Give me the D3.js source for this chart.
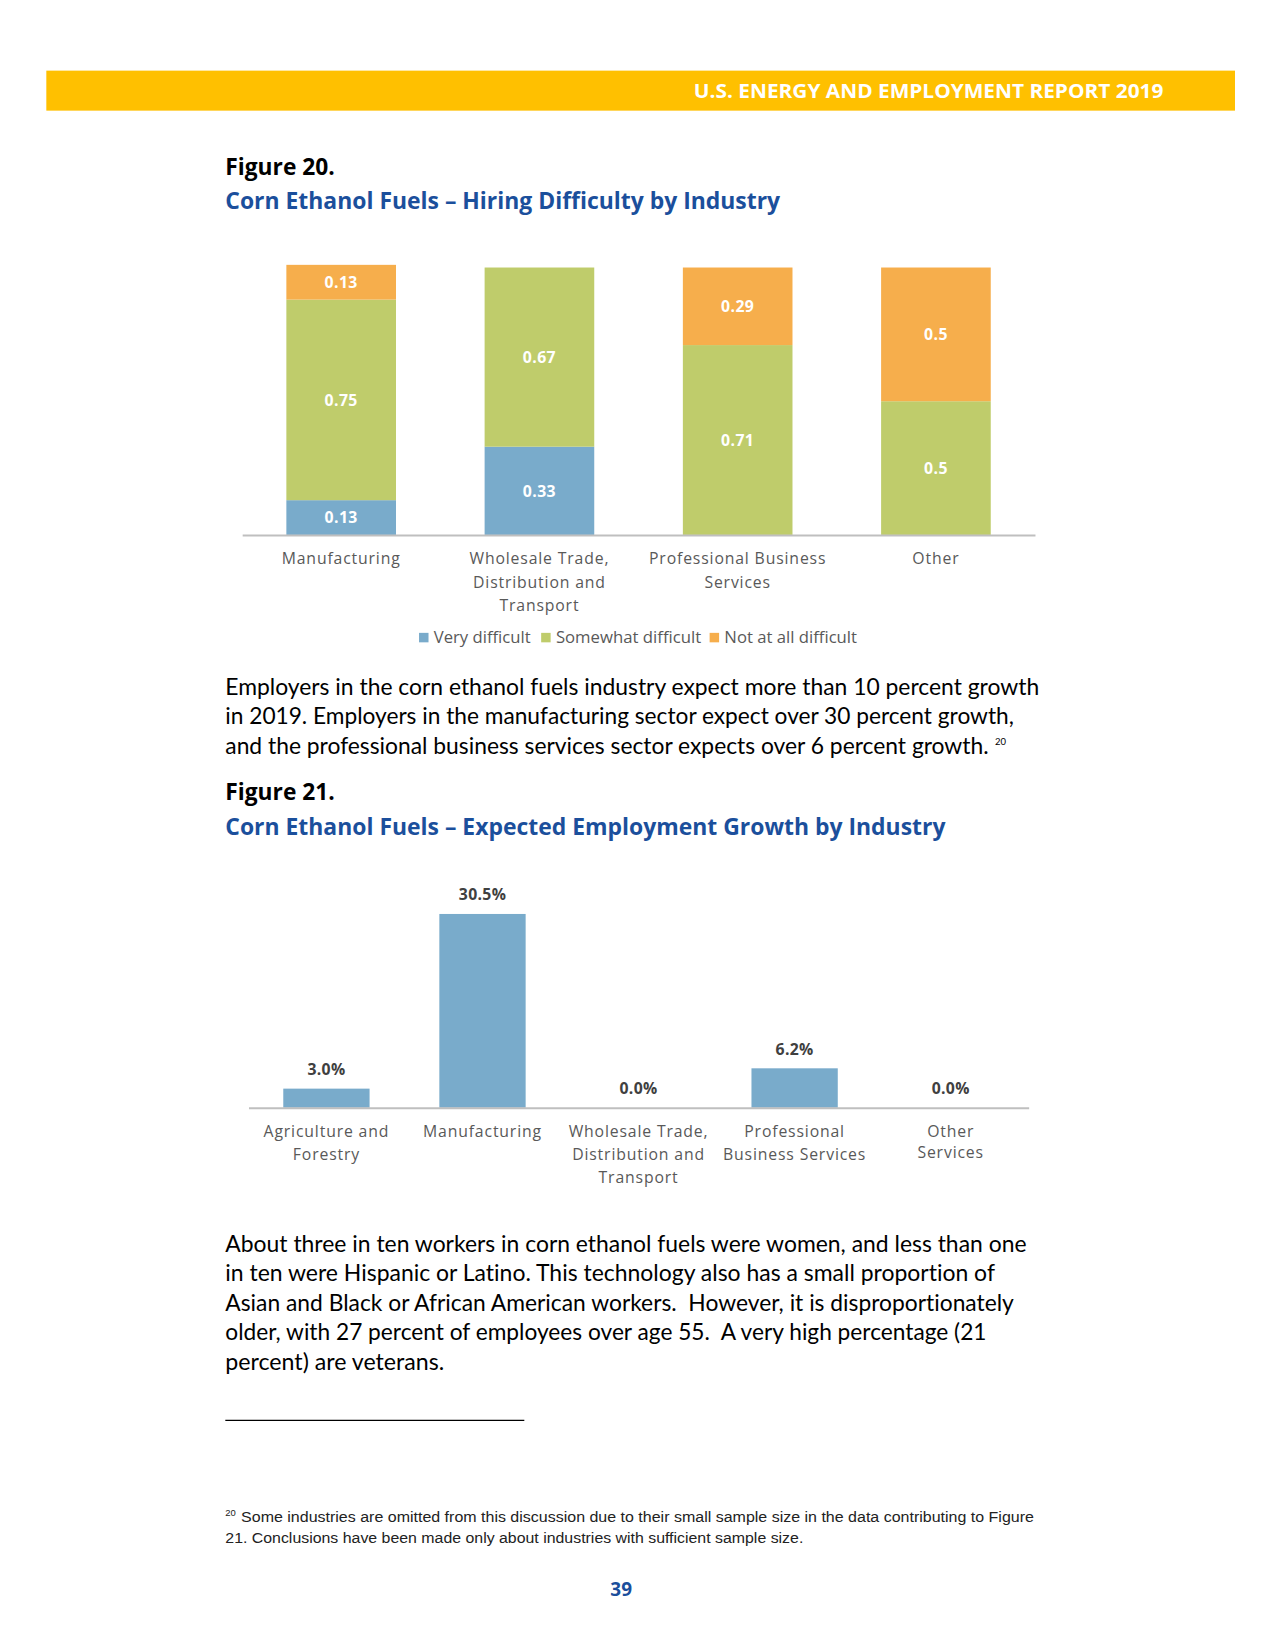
<!DOCTYPE html>
<html>
<head>
<meta charset="utf-8">
<script src="https://cdn.jsdelivr.net/npm/d3@7"></script>
<style>
  html, body { margin: 0; padding: 0; background: #fff; }
  svg { display: block; }
  text { font-variant-ligatures: none; white-space: pre; }
</style>
</head>
<body>
<div id="page"></div>
<script>
// ---- data: figure 20 (hiring difficulty) ----
const industries20 = ["Manufacturing", "Wholesale Trade, Distribution and Transport", "Professional Business Services", "Other"];
const industryLines20 = [["Manufacturing"], ["Wholesale Trade,", "Distribution and", "Transport"], ["Professional Business", "Services"], ["Other"]];
const veryDifficult = [0.13, 0.33, 0, 0];
const somewhatDifficult = [0.75, 0.67, 0.71, 0.5];
const notAtAllDifficult = [0.13, 0, 0.29, 0.5];
const seriesNames = ["Very difficult", "Somewhat difficult", "Not at all difficult"];

// ---- data: figure 21 (expected growth) ----
const industries21 = ["Agriculture and Forestry", "Manufacturing", "Wholesale Trade, Distribution and Transport", "Professional Business Services", "Other Services"];
const industryLines21 = [["Agriculture and", "Forestry"], ["Manufacturing"], ["Wholesale Trade,", "Distribution and", "Transport"], ["Professional", "Business Services"], ["Other", "Services"]];
const growth = [3.0, 30.5, 0.0, 6.2, 0.0];

// ---- page text ----
const para1 = [
  "Employers in the corn ethanol fuels industry expect more than 10 percent growth",
  "in 2019. Employers in the manufacturing sector expect over 30 percent growth,",
  "and the professional business services sector expects over 6 percent growth."
];
const para2 = [
  "About three in ten workers in corn ethanol fuels were women, and less than one",
  "in ten were Hispanic or Latino. This technology also has a small proportion of",
  "Asian and Black or African American workers.  However, it is disproportionately",
  "older, with 27 percent of employees over age 55.  A very high percentage (21",
  "percent) are veterans."
];
const footnote = [
  "Some industries are omitted from this discussion due to their small sample size in the data contributing to Figure",
  "21. Conclusions have been made only about industries with sufficient sample size."
];

const colors = ["#79abcb", "#bfcc6b", "#f6ae4c"];
const blue = "#1b4f9c";
const chartFont = "'Open Sans', 'DejaVu Sans', sans-serif";
const bodyFont = "Lato, 'Open Sans', sans-serif";

// page drawn in a 1211 x 1567 coordinate box, scaled up to the window
const W = 1211, H = 1567;
const svg = d3.select("#page").append("svg")
    .attr("width", 1275)
    .attr("height", 1650)
    .attr("viewBox", `0 0 ${W} ${H}`);

function line(x, y, txt, opts) {
    let t = svg.append("text")
        .attr("x", x).attr("y", y)
        .style("font-family", opts.font || bodyFont)
        .style("font-size", opts.size + "px")
        .style("font-weight", opts.weight || 400)
        .style("fill", opts.fill || "#000")
        .text(txt);
    if (opts.anchor) t.attr("text-anchor", opts.anchor);
    if (opts.len) t.attr("textLength", opts.len).attr("lengthAdjust", "spacingAndGlyphs");
    return t;
}

// header band
svg.append("rect").attr("x", 44).attr("y", 67).attr("width", 1129).attr("height", 38).attr("fill", "#ffc000");
line(659, 93, "U.S. ENERGY AND EMPLOYMENT REPORT 2019", {font: chartFont, size: 19, weight: 700, fill: "#fff", len: 446});

// figure 20 titles
line(214, 166, "Figure 20.", {font: chartFont, size: 22, weight: 700, len: 104});
line(214, 198, "Corn Ethanol Fuels \u2013 Hiring Difficulty by Industry", {font: chartFont, size: 22, weight: 700, fill: blue, len: 527});

// ---------- Figure 20 stacked bars ----------
const x20 = d3.scaleBand().domain(industries20).range([230, 983]).paddingInner(0.447).paddingOuter(0.223);
const y20 = d3.scaleLinear().domain([0, 1]).range([508, 254]);

const table20 = industries20.map((k, i) => ({
    industry: k,
    "Very difficult": veryDifficult[i],
    "Somewhat difficult": somewhatDifficult[i],
    "Not at all difficult": notAtAllDifficult[i]
}));
const stacked = d3.stack().keys(seriesNames)(table20);

const g20 = svg.append("g");
stacked.forEach((layer, li) => {
    g20.selectAll(".seg" + li)
        .data(layer)
        .join("rect")
        .attr("x", d => x20(d.data.industry))
        .attr("width", x20.bandwidth())
        .attr("y", d => y20(d[1]))
        .attr("height", d => y20(d[0]) - y20(d[1]))
        .attr("fill", colors[li]);
    g20.selectAll(".lab" + li)
        .data(layer.filter(d => d[1] - d[0] > 0))
        .join("text")
        .attr("x", d => x20(d.data.industry) + x20.bandwidth() / 2)
        .attr("y", d => (y20(d[0]) + y20(d[1])) / 2 + 5.5)
        .attr("text-anchor", "middle")
        .style("font-family", chartFont)
        .style("font-size", "15px")
        .style("font-weight", 700)
        .style("letter-spacing", "0.4px")
        .style("fill", "#fff")
        .text(d => +(d[1] - d[0]).toFixed(2));
});

const ax20 = svg.append("g").attr("transform", "translate(0,508)")
    .call(d3.axisBottom(x20).tickSize(0).tickSizeOuter(0).tickFormat(""));
ax20.select(".domain").attr("stroke", "#bfbfbf").attr("stroke-width", 2);

industries20.forEach((k, i) => {
    const t = svg.append("text")
        .attr("text-anchor", "middle")
        .style("font-family", chartFont)
        .style("font-size", "15px")
        .style("letter-spacing", "0.8px")
        .style("fill", "#595959");
    industryLines20[i].forEach((s, j) => {
        t.append("tspan").attr("x", x20(k) + x20.bandwidth() / 2).attr("y", 536 + j * 22).text(s);
    });
});

// legend
const legX = [398, 514, 674];
const legW = [92, 138, 126];
seriesNames.forEach((s, i) => {
    svg.append("rect").attr("x", legX[i]).attr("y", 601).attr("width", 9).attr("height", 9).attr("fill", colors[i]);
    line(legX[i] + 14, 611, s, {font: chartFont, size: 15, fill: "#595959", len: legW[i]});
});

// paragraph 1
const p1Len = [773, 749, 725];
para1.forEach((s, i) => line(214, 660 + i * 28, s, {size: 21, len: p1Len[i]}));
line(945, 708, "20", {size: 9});

// figure 21 titles
line(214, 760, "Figure 21.", {font: chartFont, size: 22, weight: 700, len: 104});
line(214, 793, "Corn Ethanol Fuels \u2013 Expected Employment Growth by Industry", {font: chartFont, size: 22, weight: 700, fill: blue, len: 684});

// ---------- Figure 21 bars ----------
const x21 = d3.scaleBand().domain(industries21).range([236, 977]).paddingInner(0.447).paddingOuter(0.223);
const y21 = d3.scaleLinear().domain([0, 30.5]).range([1052, 868]);

svg.append("g").selectAll("rect")
    .data(growth)
    .join("rect")
    .attr("x", (d, i) => x21(industries21[i]))
    .attr("width", x21.bandwidth())
    .attr("y", d => y21(d))
    .attr("height", d => y21(0) - y21(d))
    .attr("fill", colors[0]);

svg.append("g").selectAll("text")
    .data(growth)
    .join("text")
    .attr("x", (d, i) => x21(industries21[i]) + x21.bandwidth() / 2)
    .attr("y", d => y21(d) - 13)
    .attr("text-anchor", "middle")
    .style("font-family", chartFont)
    .style("font-size", "15px")
    .style("font-weight", 700)
    .style("letter-spacing", "0.3px")
    .style("fill", "#404040")
    .text(d => d.toFixed(1) + "%");

const ax21 = svg.append("g").attr("transform", "translate(0,1052)")
    .call(d3.axisBottom(x21).tickSize(0).tickSizeOuter(0).tickFormat(""));
ax21.select(".domain").attr("stroke", "#bfbfbf").attr("stroke-width", 2);

industries21.forEach((k, i) => {
    const t = svg.append("text")
        .attr("text-anchor", "middle")
        .style("font-family", chartFont)
        .style("font-size", "15px")
        .style("letter-spacing", "0.8px")
        .style("fill", "#595959");
    industryLines21[i].forEach((s, j) => {
        t.append("tspan").attr("x", x21(k) + x21.bandwidth() / 2).attr("y", 1080 + j * (i == 4 ? 20 : 22)).text(s);
    });
});

// paragraph 2
const p2Len = [761, 731, 749, 723, 208];
para2.forEach((s, i) => line(214, 1189 + i * 28, s, {size: 21, len: p2Len[i]}));

// footnote rule + footnote
svg.append("line").attr("x1", 214).attr("x2", 498).attr("y1", 1349).attr("y2", 1349).attr("stroke", "#000").attr("stroke-width", 1);
const fnFont = "'Liberation Sans Narrow', 'Liberation Sans', Arial, sans-serif";
line(214, 1440, "20", {font: fnFont, size: 9, fill: "#222"});
line(229, 1446, footnote[0], {font: fnFont, size: 14, fill: "#222", len: 753});
line(214, 1465, footnote[1], {font: fnFont, size: 14, fill: "#222", len: 549});

// page number
line(590, 1516, "39", {font: chartFont, size: 18, weight: 700, fill: blue, anchor: "middle"});
</script>
</body>
</html>
